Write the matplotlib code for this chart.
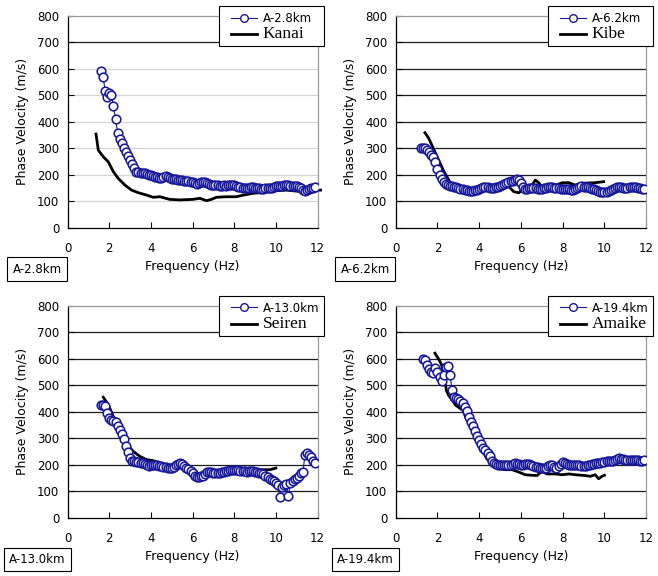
import numpy as np
import matplotlib
matplotlib.use("Agg")
import matplotlib.pyplot as plt
import matplotlib.lines as mlines
from matplotlib.patches import Rectangle

W, H = 658, 576

# --- array A phase velocities (m/s), sampled every 0.1 Hz ---
stations = ["A-2.8km", "A-6.2km", "A-13.0km", "A-19.4km"]
references = ["Kanai", "Kibe", "Seiren", "Amaike"]
start_freq = [1.6, 1.2, 1.6, 1.3]

vel_a28 = [592, 569, 518, 495, 510, 500, 460, 409, 359, 335,
           319, 302, 287, 272, 256, 239, 224, 212,
           210, 208, 206, 205, 203, 200, 198, 195, 192, 190,
           188, 188, 192, 194, 190, 186, 185, 184, 183, 182,
           181, 180, 178, 176, 177, 174, 172, 168, 165, 168,
           171, 174, 173, 168, 164, 162, 161, 160, 160, 159,
           159, 160, 159, 160, 161, 161, 161, 158, 155, 152,
           150, 149, 150, 151, 152, 152, 151, 150, 149, 148,
           148, 149, 150, 150, 151, 154, 157, 158, 158, 159,
           161, 161, 160, 159, 158, 157, 157, 154, 149, 142,
           140, 142, 146, 149, 150, 152]

vel_a62 = [302, 302, 300, 293, 285, 275, 266, 249, 222, 200,
           183, 172, 166, 161, 158, 157, 155, 152, 150, 148,
           146, 144, 142, 140, 140, 140, 142, 143, 145, 149,
           153, 155, 152, 150, 149, 150, 152, 155, 158, 162,
           166, 170, 173, 176, 178, 181, 183, 180, 170, 152,
           148, 148, 149, 150, 150, 149, 148, 148, 148, 150,
           151, 152, 152, 152, 151, 150, 149, 148, 148, 147,
           146, 145, 144, 144, 146, 150, 154, 156, 155, 154,
           152, 150, 148, 146, 142, 139, 136, 135, 135, 136,
           138, 141, 145, 150, 154, 155, 153, 150, 149, 151,
           154, 155, 154, 152, 150, 149, 148, 147]

vel_a130 = [427, 425, 421, 395, 375, 369, 367, 360, 348, 333,
            315, 296, 270, 247, 226, 216, 213, 211, 210, 209,
            208, 205, 200, 196, 198, 200, 200, 199, 197, 195,
            193, 191, 190, 188, 188, 192, 198, 204, 207, 204,
            197, 190, 184, 177, 168, 160, 156, 156, 158, 160,
            165, 172, 175, 172, 168, 168, 170, 171, 172, 174,
            177, 178, 179, 180, 180, 180, 179, 178, 177, 176,
            175, 176, 177, 176, 175, 173, 171, 168, 165, 160,
            155, 148, 143, 138, 131, 125, 78, 118, 125, 128,
            83, 131, 140, 146, 152, 158, 168, 175, 238, 246,
            238, 228, 216, 206]

vel_a194 = [600, 596, 578, 560, 552, 548, 565, 552, 530, 515,
            540, 570, 572, 540, 484, 455, 452, 448, 442, 433,
            420, 404, 382, 362, 348, 328, 310, 294, 277, 265,
            255, 244, 232, 213, 207, 203, 200, 200, 199, 198,
            198, 199, 200, 203, 206, 204, 202, 201, 200, 203,
            205, 202, 198, 196, 194, 191, 189, 188, 187, 190,
            195, 200, 198, 193, 188, 195, 205, 212, 208, 203,
            200, 198, 198, 199, 200, 199, 197, 196, 196, 198,
            200, 203, 205, 206, 208, 209, 210, 212, 215, 215,
            215, 216, 218, 222, 225, 224, 222, 220, 219, 218,
            218, 218, 218, 217, 215, 215, 217]

# --- reference dispersion curves ---
ref_f_kanai = [1.36, 1.47, 1.71, 1.95, 2.19, 2.43, 2.75, 3.07, 3.4, 3.8,
               4.1, 4.43, 4.9, 5.4, 6.0, 6.35, 6.67, 6.9, 7.15, 7.63,
               8.1, 8.43, 8.9, 9.4, 10.0, 10.5, 11.15, 11.6, 12.15]
ref_v_kanai = [354, 293, 268, 249, 212, 186, 161, 142, 132, 123,
               115, 117, 107, 105, 107, 111, 102, 107, 115, 117,
               117, 123, 130, 133, 140, 142, 137, 140, 142]

ref_f_kibe = [1.4, 1.59, 1.91, 2.31, 2.63, 2.87, 3.19, 3.5, 4.0, 4.5,
              5.0, 5.42, 5.66, 5.9, 6.2, 6.53, 6.69, 6.85, 7.0, 7.5,
              7.97, 8.29, 8.6, 8.92, 9.56, 9.96]
ref_v_kibe = [359, 337, 281, 212, 168, 149, 140, 140, 145, 150,
              155, 155, 136, 132, 149, 161, 180, 170, 155, 155,
              170, 170, 161, 168, 170, 174]

ref_f_seiren = [1.71, 1.95, 2.19, 2.51, 2.83, 3.15, 3.47, 3.79, 4.11, 4.43,
                5.0, 5.5, 6.0, 6.5, 7.0, 7.5, 8.0, 8.3, 8.59, 8.91,
                9.39, 9.71, 10.0]
ref_v_seiren = [455, 427, 383, 339, 279, 251, 232, 220, 216, 207,
                190, 200, 165, 165, 170, 175, 180, 178, 163, 176,
                182, 182, 188]

ref_f_amaike = [1.88, 2.07, 2.2, 2.35, 2.43, 2.55, 2.68, 2.87, 3.0, 3.23,
                3.39, 3.52, 3.71, 3.85, 3.98, 4.11, 4.35, 4.59, 4.9, 5.26,
                5.58, 5.9, 6.2, 6.53, 6.77, 7.0, 7.25, 7.65, 7.97, 8.29,
                8.6, 9.08, 9.32, 9.56, 9.72, 9.88, 10.0]
ref_v_amaike = [621, 597, 577, 521, 480, 460, 448, 425, 418, 405,
                372, 357, 332, 305, 285, 263, 225, 204, 188, 182,
                182, 173, 163, 161, 160, 176, 166, 166, 163, 166,
                163, 160, 157, 163, 148, 157, 161]

vels = [vel_a28, vel_a62, vel_a130, vel_a194]
ref_f = [ref_f_kanai, ref_f_kibe, ref_f_seiren, ref_f_amaike]
ref_v = [ref_v_kanai, ref_v_kibe, ref_v_seiren, ref_v_amaike]

# axes boxes in pixels: left, top, right, bottom
boxes = [(67.7, 16, 317.5, 227.7), (395.7, 16, 646.2, 227.7),
         (67.7, 305.7, 317.5, 518), (395.7, 305.7, 646.2, 518)]

BLUE = "#18189a"
plt.rcParams["font.family"] = "DejaVu Sans"

fig = plt.figure(figsize=(W / 100, H / 100), dpi=100)


def fx(x):
    return x / W


def fy(y):
    return 1 - y / H


for i, (l, t, r, b) in enumerate(boxes):
    ax = fig.add_axes([fx(l), fy(b), (r - l) / W, (b - t) / H])
    ax.set_xlim(0, 12)
    ax.set_ylim(0, 800)
    ax.set_xticks(range(0, 13, 2))
    ax.set_yticks(range(0, 801, 100))
    ax.tick_params(direction="in", length=4, width=0.8, labelsize=8.5,
                   pad=6, colors="black")
    ax.tick_params(axis="x", pad=10)

    # horizontal grid; the first panel has faint lines except at 700
    for yv in range(100, 800, 100):
        if i == 0 and yv != 700:
            ax.axhline(yv, color="#d4d4d4", lw=0.9, zorder=0)
        else:
            ax.axhline(yv, color="#1a1a1a", lw=0.9, zorder=0)

    for side in ("top", "right"):
        ax.spines[side].set_color("#9a9a9a")
        ax.spines[side].set_linewidth(0.9)
    for side in ("left", "bottom"):
        ax.spines[side].set_linewidth(0.9)

    v = np.array(vels[i])
    f = np.round(start_freq[i] + 0.1 * np.arange(len(v)), 1)

    ax.plot(ref_f[i], ref_v[i], color="black", lw=2.0, zorder=2,
            clip_on=False)
    ax.plot(f, v, color=BLUE, lw=0.8, marker="o", ms=6.2, mew=1.15,
            mfc="white", mec=BLUE, zorder=3)

    ax.set_xlabel("Frequency (Hz)", fontsize=9, labelpad=4)
    ax.set_ylabel("Phase Velocity (m/s)", fontsize=9, labelpad=6)

    # legend: framed box sticking out past the top-right corner
    bx0, by0 = r - 98.5, t - 10
    fig.add_artist(Rectangle((fx(bx0), fy(by0 + 40)), 105 / W, 40 / H,
                             transform=fig.transFigure, fc="white",
                             ec="black", lw=0.8, zorder=4))
    h1 = mlines.Line2D([], [], color=BLUE, lw=0.8, marker="o", ms=5.5,
                       mfc="white", mec=BLUE, mew=1.0)
    h2 = mlines.Line2D([], [], color="black", lw=2.0)
    leg = fig.legend([h1, h2], [stations[i], references[i]],
                     loc="center left",
                     bbox_to_anchor=(fx(bx0 + 12), fy(by0 + 21)),
                     borderaxespad=0, borderpad=0, frameon=False,
                     handlelength=2.2, handletextpad=0.5,
                     labelspacing=0.1, fontsize=8.5)
    leg.set_zorder(5)
    leg.get_texts()[1].set_fontfamily("Liberation Serif")
    leg.get_texts()[1].set_fontsize(12.5)

    # station tag under the y axis
    fig.text(fx(l - 30.5), fy(b + 41.5), stations[i], fontsize=8.5,
             ha="center", va="center",
             bbox=dict(boxstyle="square,pad=0.45", fc="white", ec="black",
                       lw=0.8))

fig.savefig("out.png", dpi=100)
